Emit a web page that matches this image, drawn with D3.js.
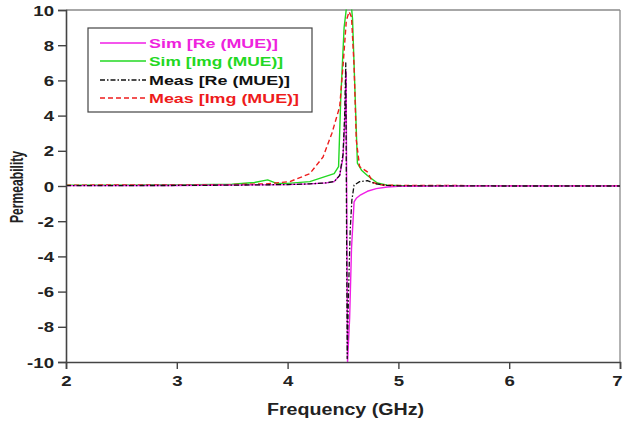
<!DOCTYPE html>
<html>
<head>
<meta charset="utf-8">
<script src="https://cdn.jsdelivr.net/npm/d3@7"></script>
<style>
  html, body { margin: 0; padding: 0; background: #fff; }
  svg { display: block; }
  text { font-family: "Liberation Sans", Arial, sans-serif; }
</style>
</head>
<body>
<svg id="chart" width="623" height="423"></svg>
<script>
// Frequency (GHz) / permeability samples for each trace
const simReFreq  = [2.0, 3.0, 3.5, 4.0, 4.2, 4.35, 4.42, 4.47, 4.5, 4.515, 4.528, 4.541, 4.56, 4.577, 4.6, 4.62, 4.66, 4.72, 4.8, 4.9, 5.0, 5.5, 6.0, 7.0];
const simReVal   = [0.02, 0.03, 0.05, 0.08, 0.12, 0.18, 0.25, 0.6, 1.6, 3.5, 6.5, -10, -7.5, -3.5, -0.9, -0.7, -0.5, -0.3, -0.15, -0.06, -0.02, 0.0, 0.0, 0.0];

const simImFreq  = [2.0, 3.0, 3.5, 3.7, 3.82, 3.9, 4.0, 4.2, 4.42, 4.46, 4.48, 4.51, 4.54, 4.57, 4.586, 4.63, 4.667, 4.72, 4.81, 4.9, 5.0, 6.0, 7.0];
const simImVal   = [0.05, 0.06, 0.1, 0.2, 0.35, 0.15, 0.15, 0.25, 0.7, 1.1, 5.0, 9.0, 10.6, 10.6, 9.5, 1.3, 0.9, 0.6, 0.17, 0.05, 0.03, 0.02, 0.02];

const measReFreq = [2.0, 3.0, 3.5, 4.0, 4.2, 4.35, 4.42, 4.47, 4.5, 4.515, 4.525, 4.538, 4.55, 4.565, 4.58, 4.6, 4.65, 4.72, 4.8, 4.9, 5.0, 6.0, 7.0];
const measReVal  = [0.02, 0.03, 0.05, 0.08, 0.12, 0.18, 0.25, 0.6, 1.8, 4.0, 7.0, -9.8, -6.0, -2.5, -0.8, 0.05, 0.25, 0.3, 0.12, 0.03, 0.01, 0.0, 0.0];

const measImFreq = [2.0, 3.0, 3.5, 3.8, 4.02, 4.2, 4.32, 4.4, 4.47, 4.5, 4.53, 4.555, 4.577, 4.6, 4.62, 4.65, 4.72, 4.77, 4.85, 5.0, 6.0, 7.0];
const measImVal  = [0.05, 0.06, 0.08, 0.12, 0.25, 0.7, 1.65, 3.0, 4.5, 6.8, 9.4, 9.9, 9.6, 6.8, 2.6, 1.1, 0.8, 0.2, 0.06, 0.03, 0.02, 0.02];

const seriesNames = ["Sim [Re (MUE)]", "Sim [Img (MUE)]", "Meas [Re (MUE)]", "Meas [Img (MUE)]"];
const xTicks = [2, 3, 4, 5, 6, 7];
const yTicks = [-10, -8, -6, -4, -2, 0, 2, 4, 6, 8, 10];

// Trace styling
const styles = [
  { color: "#f01ee6", dash: null,          width: 1.4 },
  { color: "#22d822", dash: null,          width: 1.4 },
  { color: "#111111", dash: "5,2,1.5,2",   width: 1.3 },
  { color: "#ee1c1c", dash: "5,3",         width: 1.4 }
];
const textColors = ["#ee22dd", "#22d822", "#111111", "#ee1c1c"];

const svg = d3.select("#chart");
const plotLeft = 66, plotRight = 620, plotTop = 10, plotBottom = 362;
const sx = 1.33; // horizontal stretch applied to glyphs

const x = d3.scaleLinear().domain([2, 7]).range([plotLeft, plotRight]);
const y = d3.scaleLinear().domain([-10, 10]).range([plotBottom, plotTop]);

svg.append("defs").append("clipPath").attr("id", "plot")
  .append("rect").attr("x", plotLeft).attr("y", plotTop - 0.5)
  .attr("width", plotRight - plotLeft).attr("height", plotBottom - plotTop + 0.5);

// Frame: top and right edges
svg.append("line").attr("x1", plotLeft).attr("x2", plotRight).attr("y1", plotTop).attr("y2", plotTop)
  .attr("stroke", "#8a8a8a").attr("stroke-width", 1.3);
svg.append("line").attr("x1", plotRight).attr("x2", plotRight).attr("y1", plotTop).attr("y2", plotBottom)
  .attr("stroke", "#8a8a8a").attr("stroke-width", 1.3);

// Traces
const series = [
  simReFreq.map((f, i) => [f, simReVal[i]]),
  simImFreq.map((f, i) => [f, simImVal[i]]),
  measReFreq.map((f, i) => [f, measReVal[i]]),
  measImFreq.map((f, i) => [f, measImVal[i]])
];
const line = d3.line().x(d => x(d[0])).y(d => y(d[1]));
const plotG = svg.append("g").attr("clip-path", "url(#plot)");
// draw order: green, red, magenta, black on top
[1, 3, 0, 2].forEach(k => {
  plotG.append("path")
    .datum(series[k])
    .attr("d", line)
    .attr("fill", "none")
    .attr("stroke", styles[k].color)
    .attr("stroke-width", styles[k].width)
    .attr("stroke-dasharray", styles[k].dash)
    .attr("stroke-linejoin", "round");
});

// Axes (plain hyphen for negative labels)
const axisColor = "#444";
const fmt = d => String(d);
const xAxis = svg.append("g").attr("transform", `translate(0,${plotBottom})`)
  .call(d3.axisBottom(x).tickValues(xTicks).tickSize(7).tickFormat(fmt));
const yAxis = svg.append("g").attr("transform", `translate(${plotLeft},0)`)
  .call(d3.axisLeft(y).tickValues(yTicks).tickSize(8).tickFormat(fmt));
[xAxis, yAxis].forEach(g => {
  g.select(".domain").attr("stroke", axisColor).attr("stroke-width", 1.6);
  g.selectAll(".tick line").attr("stroke", axisColor).attr("stroke-width", 1.4);
  g.selectAll(".tick text").attr("fill", "#222").attr("font-size", 14).attr("font-weight", "bold");
});
xAxis.selectAll(".tick text")
  .attr("y", null).attr("dy", null)
  .attr("transform", d => d === 7 ? `translate(-3,24) scale(${sx},1)` : `translate(0,24) scale(${sx},1)`);
yAxis.selectAll(".tick text")
  .attr("x", null).attr("dy", null)
  .attr("transform", `translate(-12,5) scale(${sx},1)`);

// Axis titles
svg.append("text")
  .attr("x", 345.5).attr("y", 415)
  .attr("text-anchor", "middle")
  .attr("font-size", 16).attr("font-weight", "bold").attr("fill", "#222")
  .attr("textLength", 157).attr("lengthAdjust", "spacingAndGlyphs")
  .text("Frequency (GHz)");
svg.append("text")
  .attr("transform", `translate(23,187) scale(${sx},1) rotate(-90)`)
  .attr("text-anchor", "middle")
  .attr("font-size", 14).attr("font-weight", "bold").attr("fill", "#222")
  .attr("textLength", 72).attr("lengthAdjust", "spacingAndGlyphs")
  .text("Permeability");

// Legend
const legend = svg.append("g");
legend.append("rect")
  .attr("x", 88).attr("y", 28).attr("width", 224).attr("height", 84)
  .attr("fill", "#fff").attr("stroke", "#444").attr("stroke-width", 1.2);
const rowY = [43, 61, 80, 98];
const textW = [129, 134, 141, 150];
seriesNames.forEach((name, i) => {
  legend.append("line")
    .attr("x1", 100).attr("x2", 146).attr("y1", rowY[i]).attr("y2", rowY[i])
    .attr("stroke", styles[i].color).attr("stroke-width", styles[i].width)
    .attr("stroke-dasharray", styles[i].dash);
  legend.append("text")
    .attr("x", 149).attr("y", rowY[i] + 5)
    .attr("font-size", 13.5).attr("font-weight", "bold")
    .attr("fill", textColors[i])
    .attr("textLength", textW[i]).attr("lengthAdjust", "spacingAndGlyphs")
    .text(name);
});
</script>
</body>
</html>
